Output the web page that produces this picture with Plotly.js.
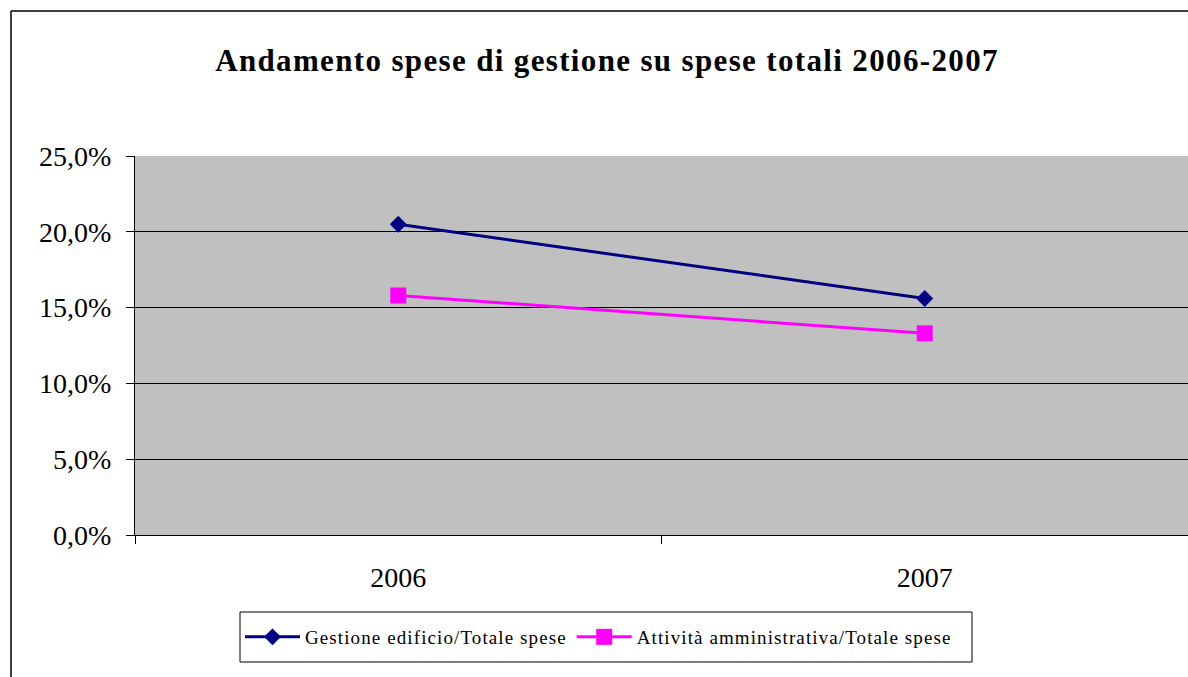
<!DOCTYPE html>
<html><head><meta charset="utf-8">
<script src="https://cdn.plot.ly/plotly-3.0.1.min.js"></script>
<style>html,body{margin:0;padding:0;background:#fff}#c{width:1188px;height:677px}
.legendtext{letter-spacing:1.1px}
.gtitle{letter-spacing:1.35px}
</style>
</head><body><div id="c"></div>
<script>
const years = ['2006', '2007'];
const gestioneEdificio = [0.205, 0.156];
const attivitaAmministrativa = [0.158, 0.133];
const seriesNames = ['Gestione edificio/Totale spese', 'Attività amministrativa/Totale spese'];
const yTicks = [0, 0.05, 0.10, 0.15, 0.20, 0.25];

const F = '"Liberation Serif", "DejaVu Serif", serif';
const data = [
  {x: years, y: gestioneEdificio, name: seriesNames[0], type: 'scatter', mode: 'lines+markers',
   line: {color: '#000080', width: 3}, marker: {symbol: 'diamond', size: 13, color: '#000080'}},
  {x: years, y: attivitaAmministrativa, name: seriesNames[1], type: 'scatter', mode: 'lines+markers',
   line: {color: '#FF00FF', width: 3}, marker: {symbol: 'square', size: 16, color: '#FF00FF'}}
];
const L = 135, R = 1188, T = 156, B = 535;
const px = v => (v - L) / (R - L);
const py = v => (B - v) / (B - T);
const layout = {
  width: 1188, height: 677,
  margin: {l: L, r: 0, t: T, b: 677 - B},
  paper_bgcolor: '#ffffff', plot_bgcolor: '#C0C0C0',
  separators: ',.',
  showlegend: true,
  font: {family: F},
  title: {text: '<b>Andamento spese di gestione su spese totali 2006-2007</b>',
    font: {family: F, size: 31, color: '#000'}, x: 607/1188, xanchor: 'center', y: 1 - 60/677, yanchor: 'middle'},
  xaxis: {type: 'category', range: [-0.5, 1.5], tickson: 'boundaries', ticks: 'outside', ticklen: 8,
    tickcolor: '#000', showline: true, linecolor: '#000', linewidth: 1, showgrid: false,
    tickfont: {family: F, size: 28, color: '#000'}, ticklabelstandoff: 17, fixedrange: true},
  yaxis: {range: [0, 0.25], tickvals: yTicks, tickformat: '.1%', ticks: 'outside', ticklen: 8,
    tickcolor: '#000', showline: true, linecolor: '#000', linewidth: 1, showgrid: true, gridcolor: '#000',
    gridwidth: 1, zeroline: false, tickfont: {family: F, size: 28, color: '#000'}, ticklabelstandoff: 9,
    fixedrange: true},
  legend: {orientation: 'h', x: px(240), xanchor: 'left', y: py(637), yanchor: 'middle',
    borderwidth: 0, bgcolor: 'rgba(0,0,0,0)', font: {family: F, size: 19, color: '#000'},
    itemwidth: 55, tracegroupgap: 0},
  shapes: [
    {type: 'line', xref: 'paper', yref: 'paper', x0: px(11), x1: px(11), y0: py(11), y1: py(677), line: {color: '#000', width: 1.5}},
    {type: 'line', xref: 'paper', yref: 'paper', x0: px(11), x1: px(1188), y0: py(11), y1: py(11), line: {color: '#000', width: 1.5}},
    {type: 'rect', xref: 'paper', yref: 'paper', x0: px(240), x1: px(972), y0: py(612), y1: py(662), line: {color: '#000', width: 1}, fillcolor: 'rgba(0,0,0,0)'}
  ]
};
Plotly.newPlot('c', data, layout, {staticPlot: true});
</script></body></html>
